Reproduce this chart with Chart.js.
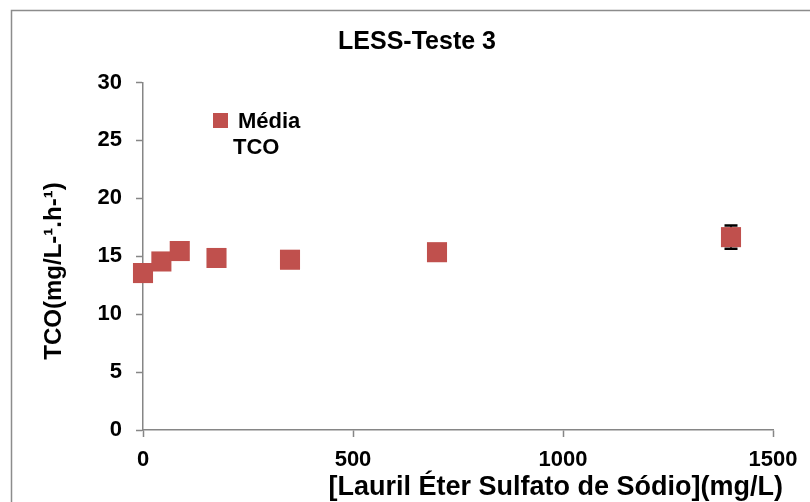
<!DOCTYPE html>
<html>
<head>
<meta charset="utf-8">
<script src="https://cdn.jsdelivr.net/npm/chart.js@4"></script>
<style>
  html, body { margin: 0; padding: 0; background: #fff; }
  #wrap { position: relative; width: 810px; height: 502px; }
</style>
</head>
<body>
<div id="wrap"><canvas id="less-3"></canvas></div>
<script>
// [LESS] em mg/L e TCO medio
const concentracao = [0, 43.75, 87.5, 175, 350, 700, 1400];
const mediaTCO = [13.55, 14.55, 15.45, 14.85, 14.7, 15.35, 16.65];
const erroTCO = [0, 0, 0, 0, 0, 0, 1.0];
const xTicks = [0, 500, 1000, 1500];
const yTicks = [0, 5, 10, 15, 20, 25, 30];

const titulo = 'LESS-Teste 3';
const tituloX = '[Lauril Éter Sulfato de Sódio](mg/L)';
const tituloY = 'TCO(mg/L-¹.h-¹)';

const vermelho = '#C0504D';
const cinza = '#868686';
const fonte = '"Liberation Sans", Arial, sans-serif';

Chart.defaults.font.family = fonte;
Chart.defaults.color = '#000';

// moldura externa (sai da tela a direita e embaixo)
const moldura = {
    id: 'moldura',
    beforeDraw(chart) {
        const c = chart.ctx;
        c.save();
        c.strokeStyle = '#8c8c8c';
        c.lineWidth = 1.5;
        c.strokeRect(11.5, 10.5, 900, 600);
        c.restore();
    }
};

// titulos (grafico e eixos)
const titulos = {
    id: 'titulos',
    afterDraw(chart) {
        const c = chart.ctx;
        const a = chart.chartArea;
        c.save();
        c.fillStyle = '#000';
        c.textBaseline = 'middle';
        c.font = 'bold 25px ' + fonte;
        c.textAlign = 'center';
        c.fillText(titulo, 417, 42);
        c.font = 'bold 27px ' + fonte;
        c.textAlign = 'right';
        c.fillText(tituloX, a.right + 10, 488);
        c.translate(54, 271);
        c.rotate(-Math.PI / 2);
        c.font = 'bold 24px ' + fonte;
        c.textAlign = 'center';
        c.fillText(tituloY, 0, 0);
        c.restore();
    }
};

// barras de erro
const barrasErro = {
    id: 'barrasErro',
    beforeDatasetsDraw(chart) {
        const c = chart.ctx;
        const x = chart.scales.x, y = chart.scales.y;
        c.save();
        c.strokeStyle = '#000';
        concentracao.forEach((v, i) => {
            const e = erroTCO[i];
            if (!e) return;
            const px = x.getPixelForValue(v);
            const top = y.getPixelForValue(mediaTCO[i] + e);
            const bot = y.getPixelForValue(mediaTCO[i] - e);
            c.lineWidth = 1.5;
            c.beginPath();
            c.moveTo(px, top);
            c.lineTo(px, bot);
            c.stroke();
            c.lineWidth = 2.5;
            c.beginPath();
            c.moveTo(px - 6.5, top);
            c.lineTo(px + 6.5, top);
            c.moveTo(px - 6.5, bot);
            c.lineTo(px + 6.5, bot);
            c.stroke();
        });
        c.restore();
    }
};

// legenda dentro da area do grafico
const legendaInterna = {
    id: 'legendaInterna',
    afterDraw(chart) {
        const c = chart.ctx;
        const a = chart.chartArea;
        const lx = a.left + 70, ly = a.top + 30.5;
        c.save();
        c.fillStyle = vermelho;
        c.fillRect(lx, ly, 15, 15);
        c.fillStyle = '#000';
        c.font = 'bold 22px ' + fonte;
        c.textBaseline = 'middle';
        c.textAlign = 'left';
        c.fillText('Média', lx + 25, ly + 8.5);
        c.fillText('TCO', lx + 20, ly + 35);
        c.restore();
    }
};

const ctx = document.getElementById('less-3').getContext('2d');
const grafico = new Chart(ctx, {
    type: 'scatter',
    data: {
        datasets: [{
            label: 'Média TCO',
            data: concentracao.map((v, i) => ({ x: v, y: mediaTCO[i] })),
            backgroundColor: vermelho,
            borderColor: vermelho,
            borderWidth: 0,
            pointStyle: 'rect',
            pointRadius: 14.2,
            pointHoverRadius: 14.2,
            clip: false
        }]
    },
    options: {
        responsive: true,
        maintainAspectRatio: false,
        animation: false,
        layout: { padding: { left: 0, right: 37, top: 82.5, bottom: 0 } },
        plugins: {
            legend: { display: false },
            tooltip: { enabled: false },
            title: { display: false }
        },
        scales: {
            x: {
                type: 'linear',
                min: 0,
                max: 1500,
                afterBuildTicks: s => { s.ticks = xTicks.map(v => ({ value: v })); },
                afterFit: s => { s.height = 72; },
                border: { color: cinza, width: 1.5 },
                grid: { drawOnChartArea: false, drawTicks: true, tickLength: 7, tickColor: cinza, tickWidth: 1.5 },
                ticks: {
                    font: { size: 22, weight: 'bold' }, color: '#000', padding: 10, maxRotation: 0,
                    callback: v => String(v)
                }
            },
            y: {
                type: 'linear',
                min: 0,
                max: 30,
                afterBuildTicks: s => { s.ticks = yTicks.map(v => ({ value: v })); },
                afterFit: s => { s.width = 143; },
                border: { color: cinza, width: 1.5 },
                grid: { drawOnChartArea: false, drawTicks: true, tickLength: 7, tickColor: cinza, tickWidth: 1.5 },
                ticks: { font: { size: 22, weight: 'bold' }, color: '#000', padding: 14, callback: v => String(v) }
            }
        }
    },
    plugins: [moldura, barrasErro, titulos, legendaInterna]
});
</script>
</body>
</html>
